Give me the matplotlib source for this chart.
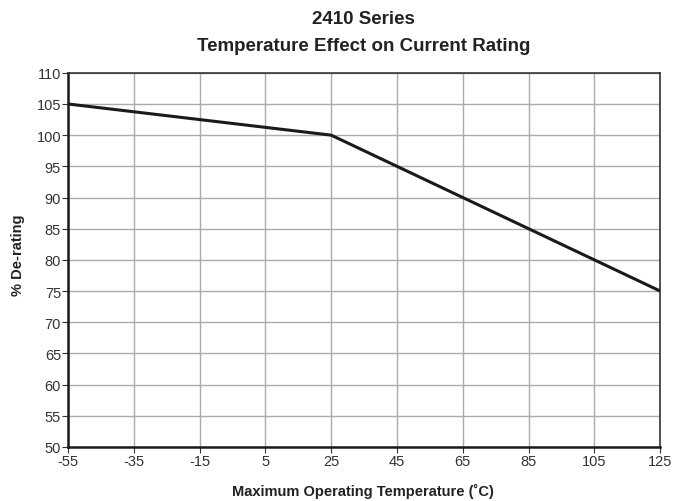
import matplotlib
matplotlib.use("Agg")
import matplotlib.pyplot as plt

plt.rcParams['font.family'] = ['Liberation Sans', 'DejaVu Sans']

# De-rating curve
temperature_c = [-55, 25, 125]
derating_pct = [105, 100, 75]

x_ticks = [-55, -35, -15, 5, 25, 45, 65, 85, 105, 125]
y_ticks = [50, 55, 60, 65, 70, 75, 80, 85, 90, 95, 100, 105, 110]

fig = plt.figure(figsize=(6.73, 5.02), dpi=100)
ax = fig.add_axes([0.101, 0.1076, 0.880, 0.7454])

ax.plot(temperature_c, derating_pct, color='#1a1a1a', linewidth=2.2, solid_capstyle='butt', zorder=3)

ax.set_xlim(-55, 125)
ax.set_ylim(50, 110)
ax.set_xticks(x_ticks)
ax.set_yticks(y_ticks)
ax.set_xticklabels([str(v) for v in x_ticks])
ax.set_yticklabels([str(v) for v in y_ticks])
ax.grid(True, color='#ababab', linewidth=1.0)
ax.set_axisbelow(True)

ax.tick_params(axis='both', direction='out', length=4, width=0.8, color='#333333',
               labelsize=10.5, labelcolor='#333333', pad=1)

for side in ['left', 'bottom']:
    ax.spines[side].set_linewidth(1.8)
    ax.spines[side].set_color('#1a1a1a')
for side in ['top', 'right']:
    ax.spines[side].set_linewidth(1.2)
    ax.spines[side].set_color('#333333')

fig.text(0.54, 0.962, '2410 Series', ha='center', va='center',
         fontsize=13.5, fontweight='bold', color='#222222')
fig.text(0.54, 0.908, 'Temperature Effect on Current Rating', ha='center', va='center',
         fontsize=13.5, fontweight='bold', color='#222222')

fig.text(0.54, 0.022, 'Maximum Operating Temperature (˚C)', ha='center', va='center',
         fontsize=10.5, fontweight='bold', color='#222222')
fig.text(0.027, 0.492, '% De-rating', ha='center', va='center', rotation=90,
         fontsize=10.5, fontweight='bold', color='#222222')

fig.savefig('out.png', dpi=100)
